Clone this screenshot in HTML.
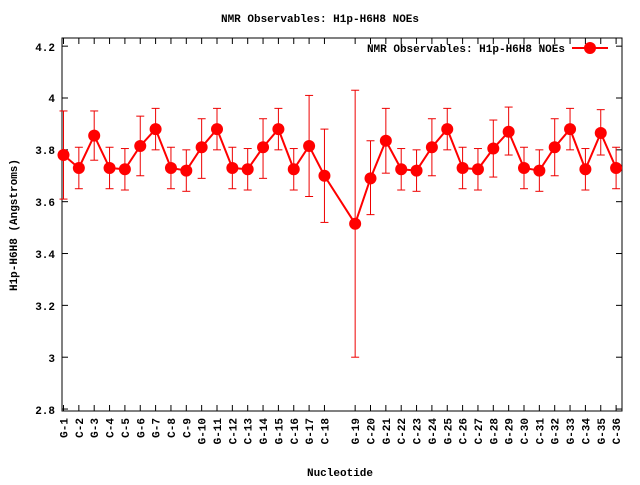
<!DOCTYPE html>
<html><head><meta charset="utf-8"><style>
body{margin:0;background:#fff}
svg text{font-family:"Liberation Mono","DejaVu Sans Mono",monospace;font-weight:bold;font-size:11px;fill:#000}
</style></head><body>
<svg id="s" width="640" height="480" xmlns="http://www.w3.org/2000/svg">
<rect width="640" height="480" fill="#fff"/>
<text x="320" y="22" text-anchor="middle">NMR Observables: H1p-H6H8 NOEs</text>
<text x="565" y="52" text-anchor="end">NMR Observables: H1p-H6H8 NOEs</text>
<text transform="translate(17,225) rotate(-90)" text-anchor="middle">H1p-H6H8 (Angstroms)</text>
<text x="340" y="476" text-anchor="middle">Nucleotide</text>
<g text-anchor="end">
<text x="55" y="51">4.2</text><text x="55" y="102">4</text><text x="55" y="154">3.8</text>
<text x="55" y="206">3.6</text><text x="55" y="258">3.4</text><text x="55" y="310">3.2</text>
<text x="55" y="362">3</text><text x="55" y="414">2.8</text>
</g>
<g id="xl" text-anchor="end"></g>
<rect x="62" y="38" width="560" height="373" fill="none" stroke="#000" stroke-width="1"/>
<g id="g"></g>
</svg>
<script>
var names=["G-1","C-2","G-3","C-4","C-5","G-6","G-7","C-8","C-9","G-10","G-11","C-12","C-13","G-14","G-15","C-16","G-17","C-18","G-19","C-20","G-21","C-22","C-23","G-24","G-25","C-26","C-27","G-28","G-29","C-30","C-31","G-32","G-33","C-34","G-35","C-36"];
var d=[[3.78,3.61,3.95],[3.73,3.65,3.81],[3.855,3.76,3.95],[3.73,3.65,3.81],[3.725,3.645,3.805],[3.815,3.70,3.93],[3.88,3.80,3.96],[3.73,3.65,3.81],[3.72,3.64,3.80],[3.81,3.69,3.92],[3.88,3.80,3.96],[3.73,3.65,3.81],[3.725,3.645,3.805],[3.81,3.69,3.92],[3.88,3.80,3.96],[3.725,3.645,3.805],[3.815,3.62,4.01],[3.70,3.52,3.88],[3.515,3.0,4.03],[3.69,3.55,3.835],[3.835,3.71,3.96],[3.725,3.645,3.805],[3.72,3.64,3.80],[3.81,3.70,3.92],[3.88,3.80,3.96],[3.73,3.65,3.81],[3.725,3.645,3.805],[3.805,3.695,3.915],[3.87,3.78,3.965],[3.73,3.65,3.81],[3.72,3.64,3.80],[3.81,3.70,3.92],[3.88,3.80,3.96],[3.725,3.645,3.805],[3.865,3.78,3.955],[3.73,3.65,3.81]];
function Y(v){return 98+(4-v)*259.2}
function X(i){return 63.5+15.35*(i<18?i:i+1)}
var h='',L='',pts=[];
for(var v=2.8;v<4.25;v+=0.2){var y=Y(v);h+='<line x1="62" y1="'+y+'" x2="68" y2="'+y+'" stroke="#000"/><line x1="622" y1="'+y+'" x2="616" y2="'+y+'" stroke="#000"/>';}
for(var i=0;i<36;i++){var x=X(i);
h+='<line x1="'+x+'" y1="411" x2="'+x+'" y2="405" stroke="#000"/><line x1="'+x+'" y1="38" x2="'+x+'" y2="44" stroke="#000"/>';
L+='<text transform="translate('+(x+4)+',418) rotate(-90)">'+names[i]+'</text>';
var a=Y(d[i][1]),b=Y(d[i][2]);
h+='<line x1="'+x+'" y1="'+a+'" x2="'+x+'" y2="'+b+'" stroke="#e00" stroke-width="1"/><line x1="'+(x-4)+'" y1="'+a+'" x2="'+(x+4)+'" y2="'+a+'" stroke="#e00"/><line x1="'+(x-4)+'" y1="'+b+'" x2="'+(x+4)+'" y2="'+b+'" stroke="#e00"/>';
pts.push(x+','+Y(d[i][0]));}
h+='<polyline points="'+pts.join(' ')+'" fill="none" stroke="#f00" stroke-width="2"/>';
pts.forEach(function(p){var c=p.split(',');h+='<circle cx="'+c[0]+'" cy="'+c[1]+'" r="6" fill="#f00"/>';});
h+='<line x1="572" y1="48" x2="608" y2="48" stroke="#f00" stroke-width="2"/><circle cx="590" cy="48" r="6" fill="#f00"/>';
document.getElementById('g').innerHTML=h;
document.getElementById('xl').innerHTML=L;
</script>
</body></html>
